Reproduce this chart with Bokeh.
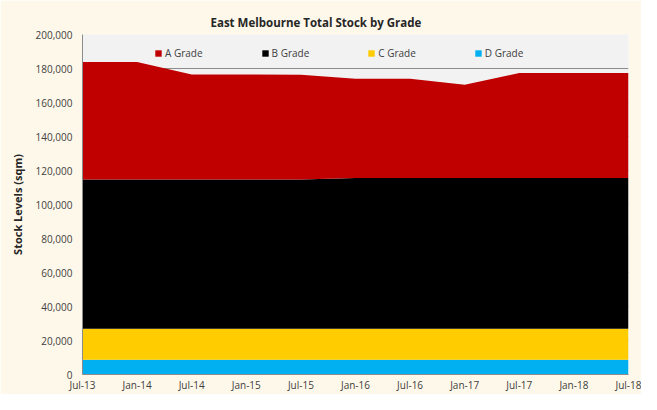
from bokeh.plotting import figure
from bokeh.models import (ColumnDataSource, Range1d, FixedTicker, Legend, LegendItem,
                          NumeralTickFormatter)
from bokeh.embed import file_html
from bokeh.resources import INLINE

periods = ["Jul-13", "Jan-14", "Jul-14", "Jan-15", "Jul-15", "Jan-16",
           "Jul-16", "Jan-17", "Jul-17", "Jan-18", "Jul-18"]
a_grade = [69100, 69100, 61800, 61800, 61600, 58400, 58400, 54800, 61700, 61700, 61700]
b_grade = [87800, 87800, 87800, 87800, 87800, 88700, 88700, 88700, 88700, 88700, 88700]
c_grade = [18200, 18200, 18200, 18200, 18200, 18200, 18200, 18200, 18200, 18200, 18200]
d_grade = [8700, 8700, 8700, 8700, 8700, 8700, 8700, 8700, 8700, 8700, 8700]
y_ticks = [0, 20000, 40000, 60000, 80000, 100000, 120000, 140000, 160000, 180000, 200000]

names = ["A Grade", "B Grade", "C Grade", "D Grade"]
colors = {"A Grade": "#C00000", "B Grade": "#000000", "C Grade": "#FFCC00", "D Grade": "#00B0F0"}

x = list(range(len(periods)))
source = ColumnDataSource(dict(x=x, A=a_grade, B=b_grade, C=c_grade, D=d_grade))

FONT = "Open Sans"
TXT = "#404040"

p = figure(width=641, height=394, output_backend="svg", toolbar_location=None,
           x_range=Range1d(0, len(periods) - 1), y_range=Range1d(0, 200000),
           background_fill_color="#F2F2F2", border_fill_color="#FEF8EA",
           min_border_left=82, min_border_right=13, min_border_top=34, min_border_bottom=16,
           title="East Melbourne Total Stock by Grade")
p.outline_line_color = None

p.title.text_font = FONT
p.title.text_font_size = "11.5px"
p.title.text_font_style = "bold"
p.title.text_color = "#262626"
p.title.align = "left"
p.title.offset = 128

stack_keys = ["D", "C", "B", "A"]
stack_names = ["D Grade", "C Grade", "B Grade", "A Grade"]
rends = p.varea_stack(stackers=stack_keys, x="x", source=source,
                      color=[colors[n] for n in stack_names])
rmap = dict(zip(stack_names, rends))

legend = Legend(items=[LegendItem(label=n, renderers=[rmap[n]]) for n in names],
                orientation="horizontal", location=(72, 314),
                padding=0, margin=0, spacing=58,
                glyph_width=8, glyph_height=8, label_height=10, label_standoff=3,
                label_text_font=FONT, label_text_font_size="10px", label_text_color=TXT,
                border_line_color=None, background_fill_alpha=0)
p.add_layout(legend)

p.xaxis.ticker = FixedTicker(ticks=x)
p.xaxis.major_label_overrides = {i: s for i, s in enumerate(periods)}
p.yaxis.ticker = FixedTicker(ticks=y_ticks)
p.yaxis.formatter = NumeralTickFormatter(format="0,0")

for ax in (p.xaxis[0], p.yaxis[0]):
    ax.major_tick_out = 0
    ax.major_tick_in = 0
    ax.minor_tick_out = 0
    ax.minor_tick_in = 0
    ax.axis_line_color = "#8C8C8C"
    ax.major_label_text_font = FONT
    ax.major_label_text_font_size = "10px"
    ax.major_label_text_color = TXT

p.xaxis.major_label_standoff = 3
p.yaxis.major_label_standoff = 10
p.yaxis.axis_label = "Stock Levels (sqm)"
p.yaxis.axis_label_text_font = FONT
p.yaxis.axis_label_text_font_size = "11px"
p.yaxis.axis_label_text_font_style = "bold"
p.yaxis.axis_label_text_color = "#262626"
p.yaxis.axis_label_standoff = 8

p.xgrid.grid_line_color = None
p.ygrid.grid_line_color = "#8C8C8C"
p.ygrid.grid_line_width = 1

open("out.html", "w").write(file_html(p, INLINE))
